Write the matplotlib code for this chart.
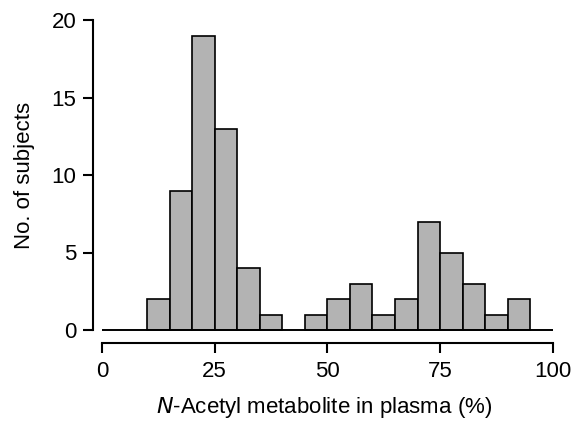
import matplotlib
matplotlib.use("Agg")
import matplotlib.pyplot as plt
import numpy as np

plt.rcParams['font.family'] = ['Liberation Sans', 'DejaVu Sans']

bin_left = [10, 15, 20, 25, 30, 35, 40, 45, 50, 55, 60, 65, 70, 75, 80, 85, 90]
counts = [2, 9, 19, 13, 4, 1, 0, 1, 2, 3, 1, 2, 7, 5, 3, 1, 2]
bin_width = 5
x_ticks = [0, 25, 50, 75, 100]
y_ticks = [0, 5, 10, 15, 20]

fig = plt.figure(figsize=(5.75, 4.22), dpi=100)
ax = fig.add_axes([93/575, (422-330)/422, 462/575, 310/422])

for l, c in zip(bin_left, counts):
    if c > 0:
        ax.bar(l, c, width=bin_width, align='edge', color='#b3b3b3',
               edgecolor='black', linewidth=1.2, clip_on=False, zorder=2)
ax.hlines(0, 0, 100, color='black', linewidth=1.4, clip_on=False, zorder=3)

ax.set_xlim(-2, 100.5)
ax.set_ylim(0, 20)
ax.spines['top'].set_visible(False)
ax.spines['right'].set_visible(False)
ax.spines['left'].set_bounds(0, 20)
ax.spines['bottom'].set_bounds(0, 100)
ax.spines['bottom'].set_position(('outward', 9.5))
for s in ['left', 'bottom']:
    ax.spines[s].set_linewidth(1.5)
ax.set_xticks(x_ticks)
ax.set_yticks(y_ticks)
ax.tick_params(axis='both', length=7, width=1.5, labelsize=16)
ax.tick_params(axis='y', pad=5)
ax.tick_params(axis='x', pad=6)
ax.set_xlabel(r'$\it{N}$-Acetyl metabolite in plasma (%)', fontsize=16, labelpad=9)
ax.set_ylabel('No. of subjects', fontsize=16, labelpad=12)

fig.savefig('out.png', dpi=100)
